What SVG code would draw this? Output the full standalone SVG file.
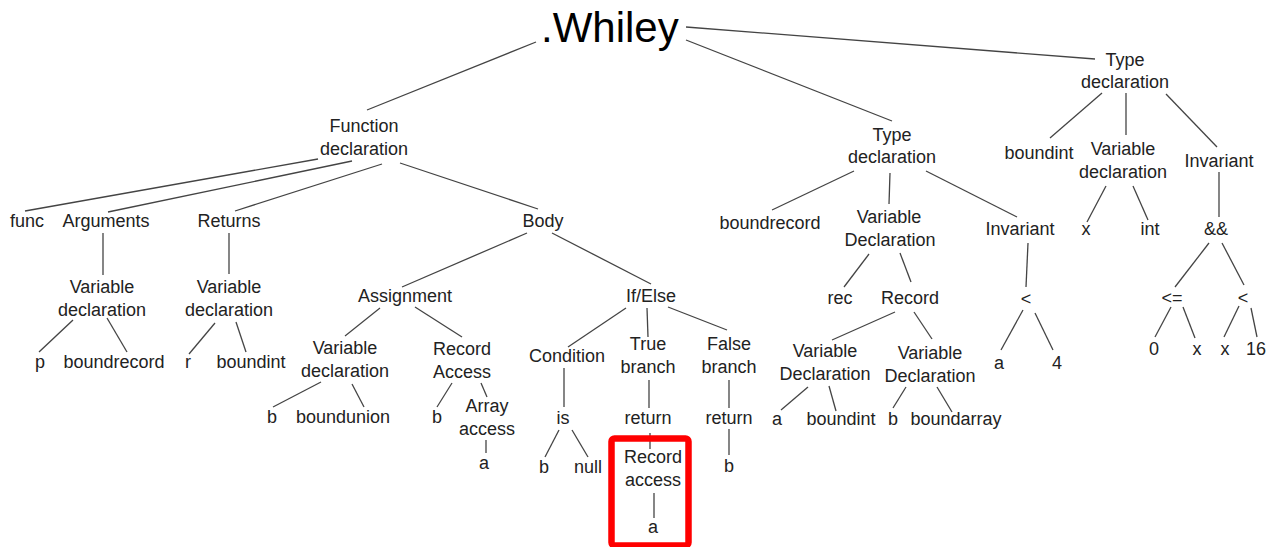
<svg xmlns="http://www.w3.org/2000/svg" width="1278" height="547" viewBox="0 0 1278 547">
<style>
text{font-family:"Liberation Sans",Arial,sans-serif;font-size:18px;fill:#222;text-anchor:middle}
.title{font-size:42px;fill:#000;text-anchor:start}
#edges line{stroke:#444;stroke-width:1.3}
</style>
<rect width="1278" height="547" fill="#fff"/>
<g id="edges">
<line x1="536" y1="42" x2="367" y2="110"/>
<line x1="686" y1="40" x2="892" y2="121"/>
<line x1="686" y1="27" x2="1095" y2="59"/>
<line x1="318" y1="159" x2="25" y2="211"/>
<line x1="352" y1="161" x2="108" y2="212"/>
<line x1="382" y1="164" x2="235" y2="211"/>
<line x1="400" y1="163" x2="538" y2="209"/>
<line x1="103" y1="233" x2="103" y2="275"/>
<line x1="229" y1="233" x2="229" y2="274"/>
<line x1="73" y1="320" x2="39" y2="352"/>
<line x1="107" y1="318" x2="127" y2="352"/>
<line x1="215" y1="323" x2="189" y2="354"/>
<line x1="236" y1="322" x2="246" y2="352"/>
<line x1="527" y1="233" x2="402" y2="287"/>
<line x1="552" y1="233" x2="651" y2="284"/>
<line x1="380" y1="308" x2="345" y2="336"/>
<line x1="415" y1="307" x2="462" y2="337"/>
<line x1="321" y1="382" x2="273" y2="407"/>
<line x1="352" y1="384" x2="364" y2="407"/>
<line x1="452" y1="383" x2="437" y2="407"/>
<line x1="481" y1="383" x2="487" y2="397"/>
<line x1="486" y1="440" x2="486" y2="453"/>
<line x1="626" y1="308" x2="568" y2="347"/>
<line x1="647" y1="308" x2="648" y2="337"/>
<line x1="668" y1="307" x2="727" y2="330"/>
<line x1="564" y1="368" x2="564" y2="407"/>
<line x1="559" y1="430" x2="545" y2="457"/>
<line x1="572" y1="430" x2="588" y2="457"/>
<line x1="649" y1="380" x2="649" y2="408"/>
<line x1="650" y1="433" x2="650" y2="449"/>
<line x1="654" y1="493" x2="654" y2="518"/>
<line x1="729" y1="380" x2="729" y2="408"/>
<line x1="729" y1="429" x2="729" y2="455"/>
<line x1="854" y1="171" x2="772" y2="210"/>
<line x1="890" y1="173" x2="889" y2="204"/>
<line x1="926" y1="171" x2="1017" y2="217"/>
<line x1="869" y1="254" x2="844" y2="287"/>
<line x1="900" y1="253" x2="911" y2="282"/>
<line x1="895" y1="312" x2="832" y2="340"/>
<line x1="914" y1="312" x2="932" y2="339"/>
<line x1="808" y1="387" x2="781" y2="410"/>
<line x1="829" y1="386" x2="836" y2="411"/>
<line x1="906" y1="387" x2="893" y2="408"/>
<line x1="937" y1="387" x2="952" y2="412"/>
<line x1="1028" y1="243" x2="1026" y2="287"/>
<line x1="1023" y1="310" x2="1001" y2="350"/>
<line x1="1035" y1="313" x2="1053" y2="350"/>
<line x1="1102" y1="93" x2="1050" y2="138"/>
<line x1="1126" y1="93" x2="1126" y2="135"/>
<line x1="1166" y1="94" x2="1217" y2="147"/>
<line x1="1106" y1="186" x2="1087" y2="222"/>
<line x1="1133" y1="186" x2="1148" y2="220"/>
<line x1="1219" y1="172" x2="1219" y2="217"/>
<line x1="1209" y1="243" x2="1175" y2="287"/>
<line x1="1222" y1="243" x2="1244" y2="285"/>
<line x1="1171" y1="307" x2="1155" y2="337"/>
<line x1="1183" y1="307" x2="1195" y2="338"/>
<line x1="1239" y1="306" x2="1224" y2="337"/>
<line x1="1251" y1="308" x2="1257" y2="337"/>
</g>
<g id="root"><text class="title" x="541" y="42">.Whiley</text></g>
<g id="funcdecl"><text x="364" y="132">Function</text><text x="364" y="155">declaration</text></g>
<g id="func"><text x="27" y="227">func</text></g>
<g id="arguments"><text x="106" y="227">Arguments</text></g>
<g id="returns"><text x="229" y="227">Returns</text></g>
<g id="body"><text x="543" y="227">Body</text></g>
<g id="argvardecl"><text x="102" y="293">Variable</text><text x="102" y="316">declaration</text></g>
<g id="retvardecl"><text x="229" y="293">Variable</text><text x="229" y="316">declaration</text></g>
<g id="p"><text x="40" y="368">p</text></g>
<g id="boundrecord1"><text x="114" y="368">boundrecord</text></g>
<g id="r"><text x="188" y="368">r</text></g>
<g id="boundint1"><text x="251" y="368">boundint</text></g>
<g id="assignment"><text x="405" y="302">Assignment</text></g>
<g id="ifelse"><text x="651" y="302">If/Else</text></g>
<g id="asgvardecl"><text x="345" y="354">Variable</text><text x="345" y="377">declaration</text></g>
<g id="b1"><text x="272" y="423">b</text></g>
<g id="boundunion"><text x="343" y="423">boundunion</text></g>
<g id="recaccess1"><text x="462" y="355">Record</text><text x="462" y="378">Access</text></g>
<g id="b2"><text x="437" y="423">b</text></g>
<g id="arrayaccess"><text x="487" y="412">Array</text><text x="487" y="435">access</text></g>
<g id="a1"><text x="484" y="469">a</text></g>
<g id="condition"><text x="567" y="362">Condition</text></g>
<g id="truebranch"><text x="648" y="350">True</text><text x="648" y="373">branch</text></g>
<g id="falsebranch"><text x="729" y="350">False</text><text x="729" y="373">branch</text></g>
<g id="is"><text x="563" y="424">is</text></g>
<g id="b3"><text x="544" y="473">b</text></g>
<g id="null"><text x="588" y="473">null</text></g>
<g id="return1"><text x="648" y="424">return</text></g>
<g id="return2"><text x="729" y="424">return</text></g>
<g id="b4"><text x="729" y="472">b</text></g>
<g id="recaccess2"><text x="653" y="463">Record</text><text x="653" y="486">access</text></g>
<g id="a2"><text x="653" y="533">a</text></g>
<g id="highlight"><rect x="611.5" y="438.5" width="77" height="107" rx="3" fill="none" stroke="#f00" stroke-width="6.5"/></g>
<g id="typedecl1"><text x="892" y="141">Type</text><text x="892" y="163">declaration</text></g>
<g id="boundrecord2"><text x="770" y="229">boundrecord</text></g>
<g id="tvardecl"><text x="889" y="223">Variable</text><text x="890" y="246">Declaration</text></g>
<g id="invariant1"><text x="1020" y="235">Invariant</text></g>
<g id="rec"><text x="840" y="304">rec</text></g>
<g id="record"><text x="910" y="304">Record</text></g>
<g id="rvardecl1"><text x="825" y="357">Variable</text><text x="825" y="380">Declaration</text></g>
<g id="rvardecl2"><text x="930" y="359">Variable</text><text x="930" y="382">Declaration</text></g>
<g id="a3"><text x="777" y="425">a</text></g>
<g id="boundint2"><text x="841" y="425">boundint</text></g>
<g id="b5"><text x="893" y="425">b</text></g>
<g id="boundarray"><text x="956" y="425">boundarray</text></g>
<g id="lt1"><text x="1026" y="305">&lt;</text></g>
<g id="a4"><text x="999" y="369">a</text></g>
<g id="four"><text x="1057" y="369">4</text></g>
<g id="typedecl2"><text x="1125" y="66">Type</text><text x="1125" y="88">declaration</text></g>
<g id="boundint3"><text x="1039" y="159">boundint</text></g>
<g id="xvardecl"><text x="1123" y="155">Variable</text><text x="1123" y="178">declaration</text></g>
<g id="invariant2"><text x="1219" y="167">Invariant</text></g>
<g id="x1"><text x="1086" y="235">x</text></g>
<g id="int"><text x="1150" y="235">int</text></g>
<g id="and"><text x="1216" y="235">&amp;&amp;</text></g>
<g id="le"><text x="1172" y="304">&lt;=</text></g>
<g id="lt2"><text x="1243" y="304">&lt;</text></g>
<g id="zero"><text x="1154" y="355">0</text></g>
<g id="x2"><text x="1197" y="355">x</text></g>
<g id="x3"><text x="1225" y="355">x</text></g>
<g id="sixteen"><text x="1256" y="355">16</text></g>
</svg>
